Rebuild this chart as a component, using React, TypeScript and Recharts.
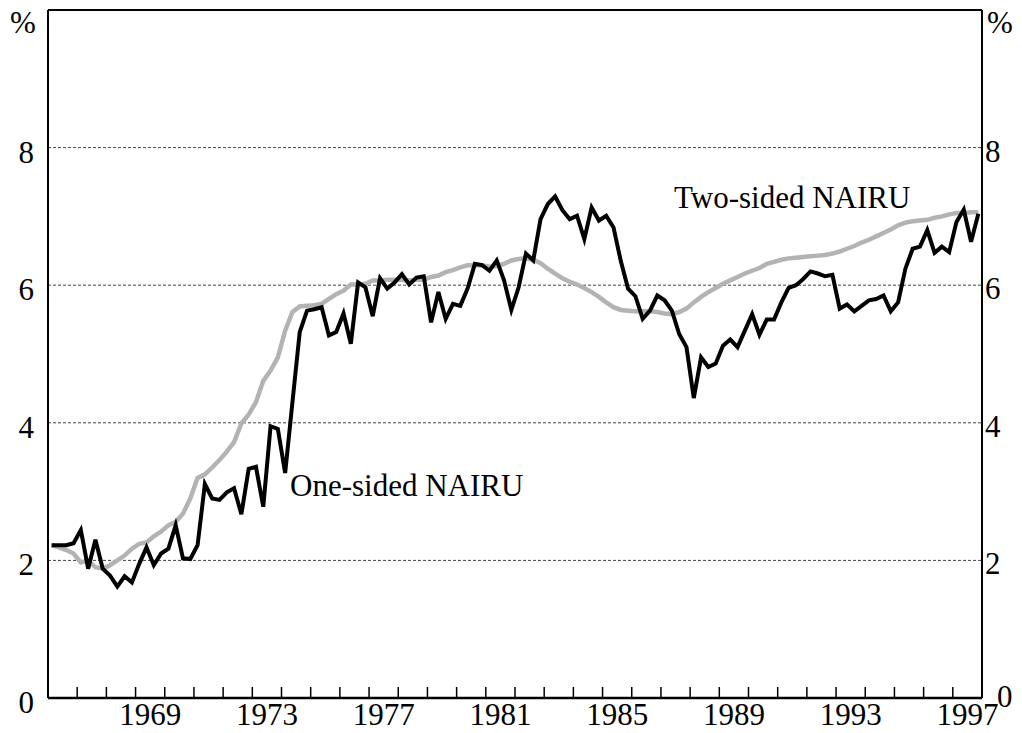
import { LineChart, Line, XAxis, YAxis, CartesianGrid, ReferenceLine } from "recharts";

// quarterly, 1966Q1 .. 1997Q4
const oneSided = [
  2.22, 2.22, 2.22, 2.25, 2.44, 1.88, 2.3, 1.88, 1.78, 1.62, 1.77, 1.68, 1.95, 2.19, 1.93, 2.1,
  2.17, 2.51, 2.03, 2.02, 2.22, 3.11, 2.9, 2.88, 2.99, 3.05, 2.67, 3.33, 3.36, 2.78, 3.95, 3.91,
  3.27, 4.3, 5.32, 5.63, 5.65, 5.68, 5.27, 5.32, 5.59, 5.15, 6.04, 5.97, 5.55, 6.1, 5.95, 6.04,
  6.16, 6.01, 6.11, 6.13, 5.46, 5.9, 5.51, 5.73, 5.7, 5.95, 6.31, 6.29, 6.21, 6.36, 6.07, 5.64,
  5.97, 6.46, 6.36, 6.96, 7.18, 7.29, 7.09, 6.96, 7.01, 6.67, 7.13, 6.94, 7.01, 6.84, 6.35, 5.95,
  5.84, 5.51, 5.63, 5.85, 5.78, 5.63, 5.29, 5.1, 4.36, 4.95, 4.81, 4.86, 5.12, 5.21, 5.1, 5.34,
  5.58, 5.28, 5.5, 5.5, 5.75, 5.96, 6.0, 6.09, 6.2, 6.17, 6.13, 6.15, 5.66, 5.72, 5.62, 5.7,
  5.78, 5.8, 5.85, 5.62, 5.75, 6.24, 6.53, 6.56, 6.8, 6.47, 6.56, 6.48, 6.92, 7.1, 6.63, 7.04,
];

const twoSided = [
  2.22, 2.19, 2.15, 2.1, 1.97, 2.0, 1.9, 1.88, 1.93, 2.0, 2.07, 2.17, 2.24, 2.26, 2.35, 2.42,
  2.51, 2.56, 2.68, 2.9, 3.2, 3.25, 3.35, 3.46, 3.58, 3.72, 3.99, 4.12, 4.3, 4.61, 4.76, 4.95,
  5.34, 5.61, 5.69, 5.7, 5.71, 5.73, 5.8, 5.87, 5.92, 6.01, 6.01, 6.02, 6.07, 6.07, 6.08, 6.08,
  6.08, 6.07, 6.08, 6.08, 6.12, 6.14, 6.19, 6.22, 6.26, 6.29, 6.29, 6.29, 6.27, 6.28, 6.31, 6.36,
  6.38, 6.39, 6.37, 6.32, 6.24, 6.17, 6.1, 6.05, 6.01, 5.96, 5.9, 5.83, 5.75, 5.68, 5.64, 5.63,
  5.62, 5.62, 5.62, 5.61, 5.59, 5.58, 5.61, 5.66, 5.75, 5.83, 5.9, 5.96, 6.02, 6.07, 6.12, 6.17,
  6.21, 6.25, 6.31, 6.34, 6.37, 6.39, 6.4, 6.41, 6.42, 6.43, 6.44, 6.46, 6.49, 6.53, 6.57, 6.62,
  6.66, 6.71, 6.76, 6.81, 6.87, 6.91, 6.93, 6.94, 6.95, 6.98, 7.0, 7.03, 7.05, 7.05, 7.06, 7.06,
];

const firstYear = 1966;
const lastYear = 1998;
const yearLabels = [1969, 1973, 1977, 1981, 1985, 1989, 1993, 1997];
const yTicks = [0, 2, 4, 6, 8];

// each quarter plotted at its midpoint
const data = oneSided.map((v, i) => ({
  t: firstYear + (i + 0.5) / 4,
  one: v,
  two: twoSided[i],
}));

const yearBoundaries = Array.from({ length: lastYear - firstYear - 1 }, (_, i) => firstYear + 1 + i);
const xTicks = [...yearBoundaries, ...yearLabels.map((y) => y + 0.5)];

const FONT = "Liberation Serif, DejaVu Serif, serif";
const FS = 31;
const txt = { fontFamily: FONT, fontSize: FS, fill: "#000" };

const XTick = ({ x, y, payload }: any) => {
  const v = payload.value;
  if (Number.isInteger(v)) {
    return <line x1={x} x2={x} y1={y - 11} y2={y} stroke="#000" strokeWidth={1.5} />;
  }
  return (
    <text x={x} y={y + 27} textAnchor="middle" style={txt}>
      {Math.floor(v)}
    </text>
  );
};

const LeftTick = ({ x, y, payload }: any) => (
  <text x={x} y={y + 15} textAnchor="end" style={txt}>
    {payload.value}
  </text>
);

const RightTick = ({ x, y, payload }: any) => {
  const zero = payload.value === 0;
  return (
    <text x={zero ? x + 12 : x} y={zero ? y + 9 : y + 14} textAnchor="start" style={txt}>
      {payload.value}
    </text>
  );
};

export default function App() {
  return (
    <div style={{ position: "absolute", left: 0, top: 0, width: 1022, height: 733, background: "#fff" }}>
      <LineChart width={1022} height={733} data={data} margin={{ top: 10, right: 0, bottom: 0, left: 0 }}>
        <CartesianGrid yAxisId="left" horizontal vertical={false} stroke="#444" strokeDasharray="3 2" strokeWidth={1} />
        <XAxis
          dataKey="t"
          type="number"
          domain={[firstYear, lastYear]}
          allowDataOverflow
          ticks={xTicks}
          interval={0}
          height={35}
          tickSize={0}
          tickMargin={0}
          tickLine={false}
          axisLine={{ stroke: "#000", strokeWidth: 2.5 }}
          tick={<XTick />}
        />
        <YAxis
          yAxisId="left"
          domain={[0, 10]}
          allowDataOverflow
          ticks={yTicks}
          interval={0}
          width={48}
          tickSize={0}
          tickMargin={14}
          tickLine={false}
          axisLine={{ stroke: "#000", strokeWidth: 2 }}
          tick={<LeftTick />}
        />
        <YAxis
          yAxisId="right"
          orientation="right"
          domain={[0, 10]}
          allowDataOverflow
          ticks={yTicks}
          interval={0}
          width={40}
          tickSize={0}
          tickMargin={3}
          tickLine={false}
          axisLine={{ stroke: "#000", strokeWidth: 2 }}
          tick={<RightTick />}
        />
        <ReferenceLine yAxisId="left" y={10} stroke="#000" strokeWidth={2} />
        <Line
          yAxisId="right"
          dataKey="two"
          stroke="#b3b3b3"
          strokeWidth={4.5}
          dot={false}
          activeDot={false}
          isAnimationActive={false}
        />
        <Line
          yAxisId="left"
          dataKey="one"
          stroke="#000"
          strokeWidth={4}
          dot={false}
          activeDot={false}
          isAnimationActive={false}
        />
      </LineChart>
      <svg
        width={1022}
        height={733}
        style={{ position: "absolute", left: 0, top: 0, pointerEvents: "none" }}
      >
        <text x={10} y={33} style={txt}>%</text>
        <text x={987} y={33} style={txt}>%</text>
        <text x={674} y={208} style={txt}>Two-sided NAIRU</text>
        <text x={290} y={496} style={txt}>One-sided NAIRU</text>
      </svg>
    </div>
  );
}
